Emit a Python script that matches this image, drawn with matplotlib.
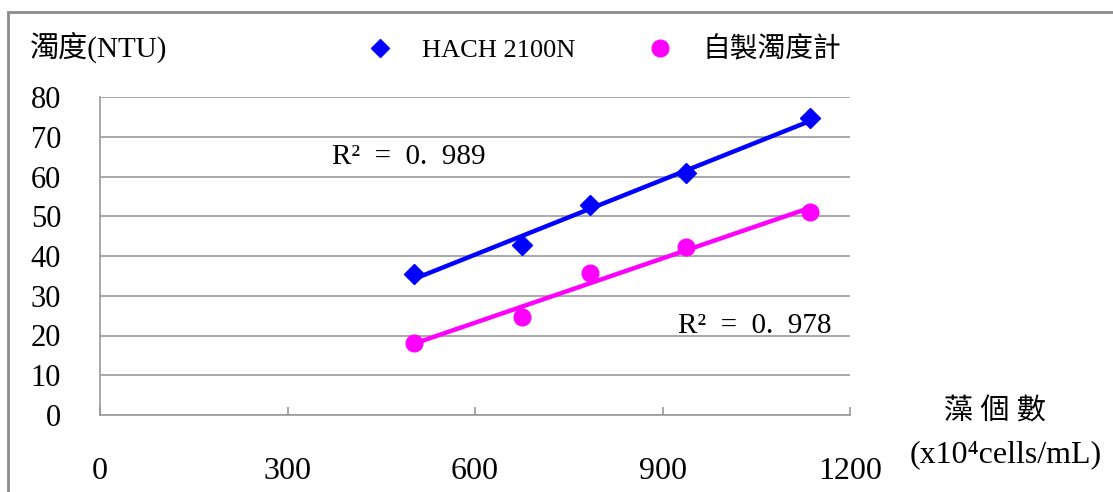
import numpy as np
import matplotlib.pyplot as plt
from matplotlib.lines import Line2D
from matplotlib.patches import Rectangle

plt.rcParams['font.family'] = ['Liberation Serif', 'Noto Sans CJK TC', 'DejaVu Sans']

# data
cells = [502, 675, 784, 938, 1136]
hach = [35.5, 42.8, 52.8, 60.9, 74.6]
homemade = [18.1, 24.7, 35.7, 42.3, 51.1]
series_names = ['HACH 2100N', '自製濁度計']
r2_labels = ['R² = 0. 989', 'R² = 0. 978']
xticks = [0, 300, 600, 900, 1200]
yticks = [0, 10, 20, 30, 40, 50, 60, 70, 80]

blue = '#0000ff'
pink = '#ff00ff'
grid_c = '#999999'

fig = plt.figure(figsize=(11.13, 4.92), dpi=100)
ax = fig.add_axes([100 / 1113, 1 - 415 / 492, 750 / 1113, 318 / 492])

# outer frame of the chart area (clipped by the image edge on the right/bottom)
fig.patches.append(Rectangle((8 / 1113, -0.1), 1.2, 1 - 12 / 492 + 0.1,
                             transform=fig.transFigure, fill=False,
                             edgecolor='#8c8c8c', linewidth=2))

for y, c, m, ms in [(hach, blue, 'D', 10), (homemade, pink, 'o', 12)]:
    k, b = np.polyfit(cells, y, 1)
    xs = np.array([min(cells), max(cells)])
    ax.plot(xs, k * xs + b, color=c, linewidth=3.2, zorder=3)
    ax.plot(cells, y, linestyle='none', marker=m, markersize=ms, color=c, zorder=4)

ax.set_xlim(0, 1200)
ax.set_ylim(0, 80)
ax.set_xticks(xticks)
ax.set_yticks(yticks)
ax.yaxis.grid(True, color=grid_c, linewidth=1.2)
ax.set_axisbelow(True)
for s in ['top', 'right']:
    ax.spines[s].set_visible(False)
for s in ['left', 'bottom']:
    ax.spines[s].set_color(grid_c)
    ax.spines[s].set_linewidth(1.2)
ax.tick_params(axis='y', length=0, pad=28, labelsize=22)
ax.tick_params(axis='x', direction='in', length=6, color=grid_c, width=1.2,
               pad=30, labelsize=23)

ax.text(372, 64.8, r2_labels[0].replace(' ', '  '), fontsize=21, va='center', ha='left')
ax.text(925, 22.3, r2_labels[1].replace(' ', '  '), fontsize=21, va='center', ha='left')

fig.text(30 / 1113, 1 - 47 / 492, '濁度(NTU)', fontsize=21, va='center', ha='left')
fig.text(995 / 1113, 1 - 412 / 492, '藻 個 數', fontsize=21, va='center', ha='center')
fig.text(1006 / 1113, 1 - 455 / 492, '(x10⁴cells/mL)', fontsize=23,
         va='center', ha='center')

handles = [Line2D([], [], linestyle='none', marker='D', markersize=9, color=blue),
           Line2D([], [], linestyle='none', marker='o', markersize=12, color=pink)]
leg = fig.legend(handles, series_names, loc='center left',
                 bbox_to_anchor=(330 / 1113, 1 - 50 / 492), ncol=2, frameon=False,
                 fontsize=19, handletextpad=0.6, columnspacing=2.2)
leg.get_texts()[1].set_fontsize(20)

fig.savefig('out.png', dpi=100)
